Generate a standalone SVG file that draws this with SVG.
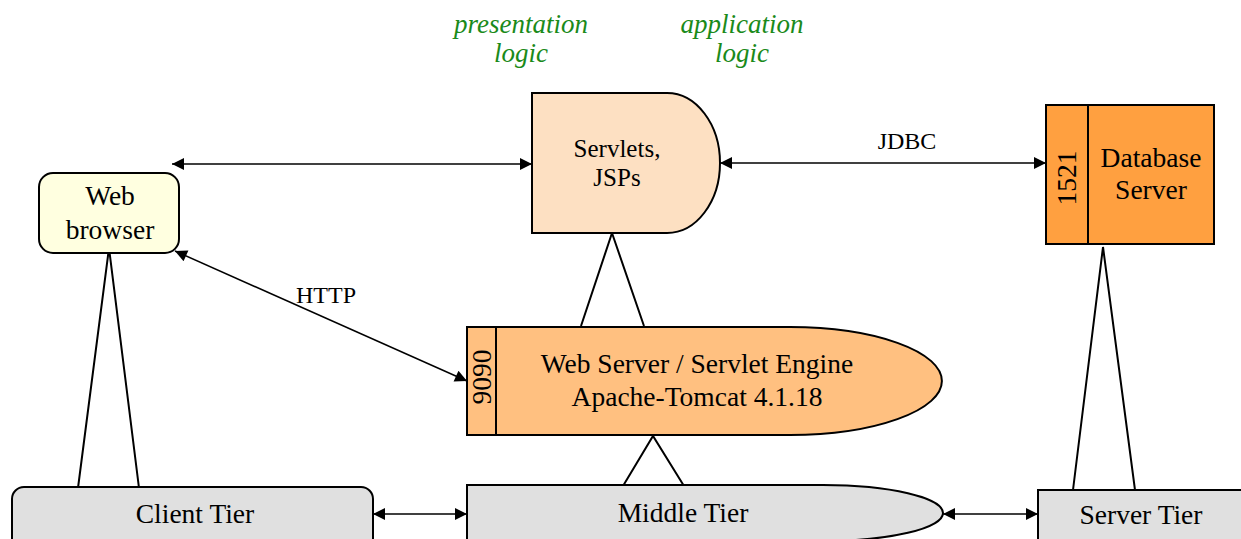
<svg xmlns="http://www.w3.org/2000/svg" width="1241" height="539" viewBox="0 0 1241 539">
<style>
  text { font-family: "Liberation Serif", "Times New Roman", serif; fill: #000; text-anchor: middle; }
  .big { font-size: 27.5px; }
  .mid { font-size: 25px; }
  .lbl { font-size: 24px; }
  .note { font-size: 27px; font-style: italic; fill: #1a8a1a; }
  .shape { stroke: #000; stroke-width: 2; }
  .edge { stroke: #000; stroke-width: 1.5; fill: none; }
  .tri { stroke: #000; stroke-width: 2; fill: none; }
</style>
<defs>
  <marker id="ah" viewBox="0 0 10 10" refX="10" refY="5" markerWidth="18" markerHeight="12" markerUnits="userSpaceOnUse" orient="auto-start-reverse">
    <path d="M0,0 L10,5 L0,10 z" fill="#000"/>
  </marker>
</defs>

<text class="note" x="521" y="33">presentation</text>
<text class="note" x="521" y="62">logic</text>
<text class="note" x="742" y="33">application</text>
<text class="note" x="742" y="62">logic</text>

<g id="connectors">
  <line class="edge" x1="172" y1="164" x2="532" y2="164" marker-start="url(#ah)" marker-end="url(#ah)"/>
  <line class="edge" x1="720" y1="163" x2="1046" y2="163" marker-start="url(#ah)" marker-end="url(#ah)"/>
  <text class="lbl" x="907" y="149">JDBC</text>
  <line class="edge" x1="175" y1="251" x2="467" y2="381" marker-start="url(#ah)" marker-end="url(#ah)"/>
  <text class="lbl" x="326" y="303">HTTP</text>
  <line class="edge" x1="373" y1="514" x2="467" y2="514" marker-start="url(#ah)" marker-end="url(#ah)"/>
  <line class="edge" x1="943" y1="514" x2="1038" y2="514" marker-start="url(#ah)" marker-end="url(#ah)"/>
  <polyline class="tri" points="581,326 612,233 644,326"/>
  <polyline class="tri" points="623,486 653,436 684,486"/>
  <polyline class="tri" points="78,488 109,248 139,488"/>
  <polyline class="tri" points="1073,490 1103,247 1135,490"/>
</g>

<g id="web-browser">
  <rect class="shape" x="39" y="173" width="140" height="80" rx="14" fill="#ffffe0"/>
  <text class="big" x="110" y="205">Web</text>
  <text class="big" x="110" y="239">browser</text>
</g>

<g id="servlets">
  <path class="shape" d="M532,93 H667 A53,70 0 0 1 667,233 H532 Z" fill="#fde0c2"/>
  <text class="mid" x="617" y="157">Servlets,</text>
  <text class="mid" x="617" y="186">JSPs</text>
</g>

<g id="database-server">
  <rect class="shape" x="1046" y="105" width="168" height="139" fill="#ffa040"/>
  <line class="shape" x1="1088" y1="105" x2="1088" y2="244"/>
  <text class="big" transform="translate(1076,178) rotate(-90)">1521</text>
  <text class="big" x="1151" y="167">Database</text>
  <text class="big" x="1151" y="199">Server</text>
</g>

<g id="web-server">
  <path class="shape" d="M467,327 H790 A152,54 0 0 1 790,435 H467 Z" fill="#ffc080"/>
  <line class="shape" x1="496" y1="327" x2="496" y2="435"/>
  <text class="big" transform="translate(491,377) rotate(-90)">9090</text>
  <text class="big" x="697" y="373">Web Server / Servlet Engine</text>
  <text class="big" x="697" y="406">Apache-Tomcat 4.1.18</text>
</g>

<g id="client-tier">
  <rect class="shape" x="12" y="487" width="361" height="70" rx="12" fill="#e0e0e0"/>
  <text class="big" x="195" y="523">Client Tier</text>
</g>

<g id="middle-tier">
  <path class="shape" d="M467,485 H823 A120,28 0 0 1 823,541 H467 Z" fill="#e0e0e0"/>
  <text class="big" x="683" y="522">Middle Tier</text>
</g>

<g id="server-tier">
  <rect class="shape" x="1038" y="490" width="215" height="60" fill="#e0e0e0"/>
  <text class="big" x="1141" y="524">Server Tier</text>
</g>
</svg>
